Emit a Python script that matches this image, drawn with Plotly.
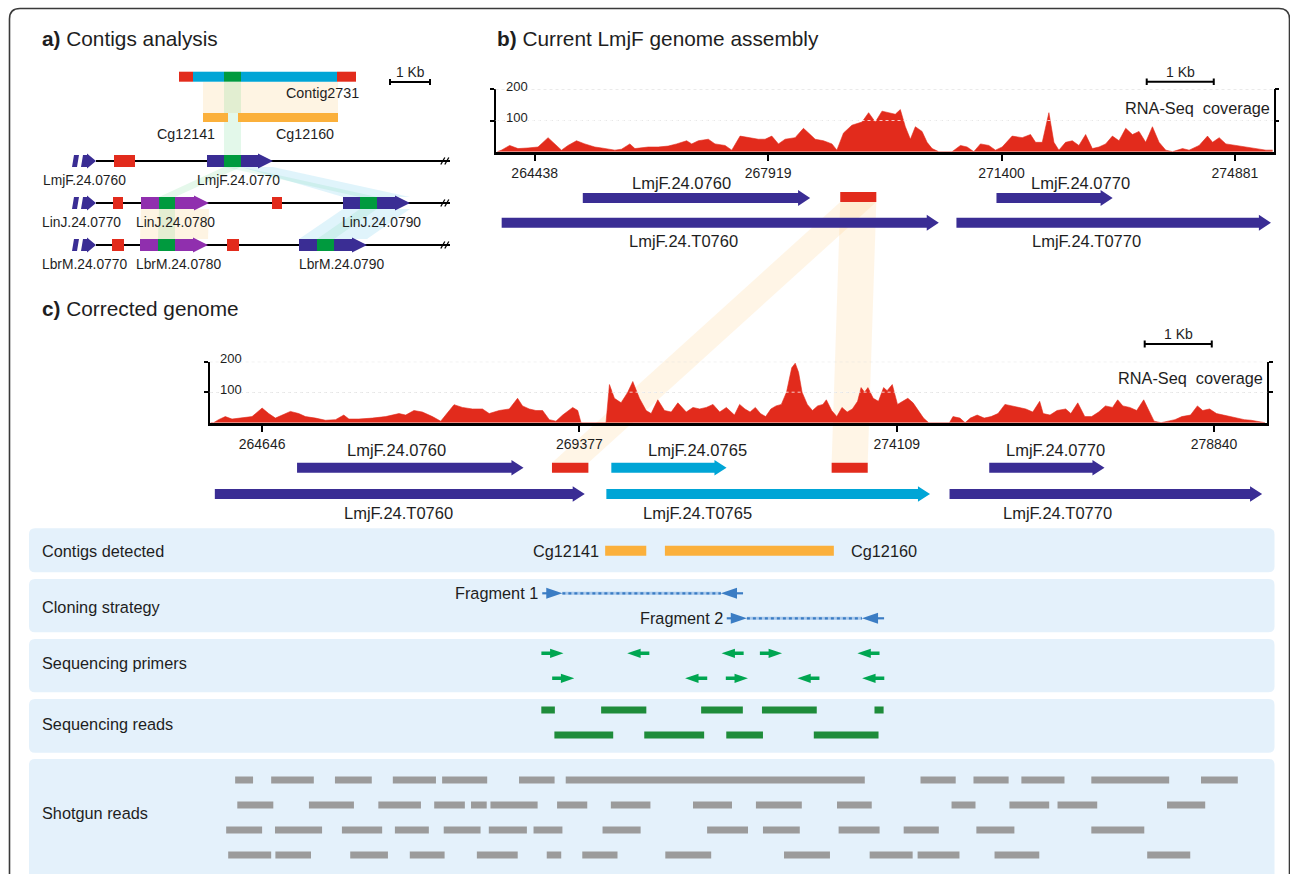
import plotly.graph_objects as go

W, H = 1290, 874
FONT = "Liberation Sans, Arial, Helvetica, sans-serif"
TXT = "#1e1e1e"

# ---------------- colours ----------------
DARK = "#3a2d94"
LIGHT = "#00a5d6"
GREEN = "#009a3e"
RED = "#e22b1c"
ORANGE = "#fbb03b"
PURPLE = "#902fae"
PRIMER = "#00a651"
READ = "#1e8c3a"
GRAY = "#9b9b9b"
CLONE = "#3b7dc4"
BOX = "#e4f1fb"

# ================= DATA =================
# ---- panel a (positions in kb from the left end of each locus) ----
A_CONTIG = [(2.675, 3.025, RED), (3.025, 3.8, LIGHT), (3.8, 4.225, GREEN),
            (4.225, 6.625, LIGHT), (6.625, 7.1, RED)]
A_CG = [("Cg12141", 3.275, 3.9, 2.85), ("Cg12160", 4.15, 6.65, 5.825)]
A_TRUNC = ["LmjF.24.0760", "LinJ.24.0770", "LbrM.24.0770"]
A_TRUNC_LABEL_X = [0.3, 0.225, 0.3]
A_RED = [[(1.05, 1.575)], [(1.025, 1.275), (5.0, 5.25)], [(1.0, 1.3), (3.875, 4.175)]]
# row, name, start, end, colour, conserved start, conserved end, label x
A_GENES = [
    (0, "LmjF.24.0770", 3.375, 5.025, DARK, 3.8, 4.225, 4.15),
    (1, "LinJ.24.0780", 1.725, 3.425, PURPLE, 2.175, 2.575, 2.575),
    (1, "LinJ.24.0790", 6.775, 8.45, DARK, 7.2, 7.625, 7.725),
    (2, "LbrM.24.0780", 1.7, 3.4, PURPLE, 2.15, 2.575, 2.65),
    (2, "LbrM.24.0790", 5.675, 7.375, DARK, 6.125, 6.55, 6.725),
]
A_LINE_END = 9.45
A_SCALE = (7.95, 8.95)

# ---- panel b: current assembly (genomic coordinates) ----
B_TICKS = [264438, 267919, 271400, 274881]
B_COV_POS = [263880, 263941, 264064, 264188, 264338, 264487, 264637, 264737, 264837, 264935,
             265061, 265185, 265334, 265434, 265533, 265633, 265733, 265857, 265932, 266032,
             266131, 266280, 266429, 266555, 266704, 266779, 266878, 267027, 267127, 267277,
             267377, 267501, 267625, 267774, 267874, 267974, 268073, 268173, 268322, 268446,
             268547, 268621, 268745, 268871, 268945, 269044, 269169, 269319, 269418, 269518,
             269618, 269742, 269816, 269891, 269966, 270041, 270115, 270215, 270290, 270365,
             270464, 270663, 270788, 270887, 270987, 271086, 271211, 271310, 271410, 271559,
             271709, 271833, 271908, 272008, 272107, 272182, 272256, 272356, 272456, 272555,
             272655, 272755, 272854, 272954, 273054, 273153, 273253, 273353, 273451, 273551,
             273651, 273750, 273850, 273950, 274100, 274198, 274348, 274473, 274548, 274647,
             274747, 274896, 275045, 275195, 275344, 275444]
B_COV_VAL = [0, 5, 20, 10, 12, 15, 45, 25, 5, 20,
             35, 25, 15, 12, 8, 5, 8, 25, 10, 12,
             15, 15, 18, 25, 35, 25, 35, 40, 25, 20,
             5, 50, 45, 40, 40, 50, 25, 40, 45, 75,
             55, 40, 35, 25, 5, 60, 85, 95, 125, 95,
             130, 125, 120, 135, 80, 40, 80, 65, 30, 10,
             0, 0, 20, 15, 0, 25, 20, 5, 15, 50,
             45, 55, 30, 30, 125, 30, 5, 30, 35, 20,
             55, 10, 15, 25, 50, 35, 75, 55, 65, 30,
             80, 30, 5, 0, 10, 5, 20, 50, 30, 45,
             25, 20, 15, 10, 5, 5]
# name, start, end, lane, label x
B_GENES = [("LmjF.24.0760", 265155, 268546, 0, 266630),
           ("LmjF.24.0770", 271325, 273058, 0, 272582),
           ("LmjF.24.T0760", 263945, 270465, 1, 266660),
           ("LmjF.24.T0770", 270728, 275419, 1, 272671)]
B_RED = [(268995, 269533)]
B_SCALE = (273566, 274566)

# ---- panel c: corrected genome (genomic coordinates) ----
C_TICKS = [264646, 269377, 274109, 278840]
C_COV_POS = [263880, 263923, 263997, 264097, 264197, 264346, 264496, 264646, 264744, 264844,
             264944, 265068, 265192, 265292, 265442, 265591, 265741, 265864, 265940, 266089,
             266288, 266488, 266687, 266787, 266910, 267035, 267186, 267309, 267383, 267508,
             267633, 267782, 267932, 268032, 268181, 268331, 268455, 268529, 268629, 268728,
             268828, 268928, 269027, 269127, 269277, 269352, 269401, 269774, 269825, 269899,
             269999, 270098, 270173, 270272, 270372, 270447, 270546, 270646, 270746, 270845,
             270970, 271070, 271170, 271269, 271369, 271469, 271568, 271689, 271766, 271845,
             271922, 272000, 272077, 272154, 272232, 272309, 272388, 272465, 272543, 272595,
             272645, 272697, 272775, 272852, 272929, 273008, 273059, 273138, 273215, 273292,
             273370, 273447, 273525, 273577, 273629, 273679, 273758, 273836, 273913, 273965,
             274042, 274120, 274197, 274274, 274352, 274429, 274508, 274585, 274895, 274947,
             275051, 275128, 275206, 275308, 275413, 275515, 275619, 275722, 275826, 275929,
             276033, 276137, 276240, 276292, 276394, 276499, 276628, 276705, 276808, 276912,
             277015, 277119, 277221, 277326, 277403, 277480, 277584, 277687, 277791, 277868,
             277946, 278050, 278153, 278257, 278360, 278489, 278592, 278671, 278773, 278877,
             278980, 279084, 279187, 279291, 279392, 279497, 279600]
C_COV_VAL = [0, 0, 10, 20, 12, 15, 20, 48, 30, 15,
             25, 37, 30, 20, 15, 8, 10, 25, 12, 12,
             15, 20, 30, 25, 40, 35, 20, 5, 25, 59,
             50, 45, 45, 30, 40, 45, 80, 55, 45, 40,
             40, 10, 5, 25, 50, 40, 0, 0, 125, 80,
             65, 100, 135, 80, 40, 30, 75, 40, 35, 65,
             35, 50, 45, 50, 60, 35, 50, 25, 60, 45,
             35, 50, 30, 20, 45, 55, 60, 100, 180, 195,
             165, 100, 60, 40, 55, 60, 75, 40, 20, 50,
             35, 45, 70, 115, 100, 115, 80, 70, 115, 105,
             125, 60, 70, 80, 65, 40, 15, 0, 0, 20,
             15, 0, 15, 25, 15, 20, 30, 60, 55, 50,
             45, 35, 70, 30, 25, 40, 45, 30, 65, 20,
             20, 35, 55, 50, 75, 55, 50, 40, 75, 40,
             5, 0, 5, 10, 20, 25, 55, 40, 45, 30,
             25, 20, 15, 10, 8, 5, 0]
# name, start, end, lane, colour, label x
C_GENES = [("LmjF.24.0760", 265167, 268544, 0, DARK, 266644),
           ("LmjF.24.0765", 269853, 271571, 0, LIGHT, 271132),
           ("LmjF.24.0770", 275488, 277207, 0, DARK, 276477),
           ("LmjF.24.T0760", 263941, 269457, 1, DARK, 266674),
           ("LmjF.24.T0765", 269779, 274605, 1, LIGHT, 271132),
           ("LmjF.24.T0770", 274896, 279557, 1, DARK, 276499)]
C_RED = [(268968, 269511), (273138, 273676)]
C_SCALE = (277806, 278806)

CONTIGS = [("Cg12141", 269761, 270374), ("Cg12160", 270652, 273171)]
FRAGMENTS = [("Fragment 1", 268823, 271817), ("Fragment 2", 271574, 273920)]
PRIMERS = [[(268975, 1), (270255, -1), (271661, -1), (272233, 1), (273687, -1)],
           [(269136, 1), (271118, -1), (271725, 1), (272791, -1), (273758, -1)]]
SEQ_READS = [[(268809, 269011), (269701, 270375), (271192, 271814), (272099, 272916), (273777, 273913)],
             [(269004, 269881), (270344, 271237), (271567, 272114), (272872, 273837)]]
SHOTGUN = [
    [(264244, 264511), (264781, 265417), (265732, 266281), (266595, 267238), (267330, 268002),
     (268477, 269007), (269173, 273632), (274463, 274988), (275253, 275777), (275967, 276610),
     (277010, 278171), (278645, 279194)],
    [(264276, 264813), (265344, 266015), (266379, 267014), (267212, 267669), (267761, 267995),
     (268051, 268754), (269044, 269494), (269846, 270436), (271071, 271652), (272009, 272693),
     (273218, 273736), (274926, 275283), (275789, 276382), (276506, 277098), (278139, 278708)],
    [(264110, 264646), (264838, 265540), (265836, 266436), (266626, 267132), (267354, 267903),
     (268026, 268594), (268693, 269124), (269722, 270290), (271281, 271891), (272114, 272663),
     (273242, 273853), (274212, 274736), (275296, 275863), (277010, 277800)],
    [(264140, 264781), (264844, 265375), (265960, 266522), (266848, 267367), (267848, 268457),
     (268890, 269106), (269420, 269945), (270658, 271342), (272428, 273113), (273705, 274346),
     (274420, 275044), (275567, 276234), (277843, 278485)],
]
TRACKS = ["Contigs detected", "Cloning strategy", "Sequencing primers", "Sequencing reads", "Shotgun reads"]

# ================= LAYOUT (pixel geometry) =================
A_Y_CONTIG, A_Y_CG, A_Y_ROWS = 76.7, 117.5, [161, 203, 245]
B_LANES = [198, 222.7]
C_LANES = [467.7, 494]
TRACK_BOXES = [(528.3, 572.3), (579, 632.3), (639, 692.3), (699, 752.7), (759, 884)]
TRACK_LABEL_Y = [550.5, 606.5, 663.3, 724.3, 813]
Y_CONTIG = 550.7
Y_FRAG = [593.3, 618.3]
Y_PRIMER = [653.3, 678.3]
Y_READ = [710, 735]
Y_SHOT = [780, 805, 830, 855]

B_XPIX, B_XRANGE = (495.5, 1273.5), (263853, 275457)
B_YPIX = (89.3, 151.7)
C_XPIX, C_XRANGE = (209.6, 1267.3), (263863, 279634)
C_YPIX = (361.7, 422.7)
A_XPIX, A_XRANGE = (0, 480), (-1.8, 10.2)

F_TITLE, F_GENE, F_TRACK, F_SMALL, F_TICK = 20.8, 16.5, 16.3, 13.8, 14


def dom_x(p):
    return [p[0] / W, p[1] / W]


def dom_y(p):
    return [1 - p[1] / H, 1 - p[0] / H]


def to_px(g, pix, rng):
    return pix[0] + (g - rng[0]) / (rng[1] - rng[0]) * (pix[1] - pix[0])


fig = go.Figure()


def add_polys(polys, color, xa, ya="y"):
    xs, ys = [], []
    for px_, py_ in polys:
        xs += list(px_) + [px_[0], None]
        ys += list(py_) + [py_[0], None]
    fig.add_trace(go.Scatter(x=xs, y=ys, xaxis=xa, yaxis=ya, mode="lines", fill="toself",
                             fillcolor=color, line=dict(width=0, color=color),
                             hoverinfo="skip", showlegend=False))


def add_line(xs, ys, color, width, xa, ya="y", dash=None):
    fig.add_trace(go.Scatter(x=xs, y=ys, xaxis=xa, yaxis=ya, mode="lines",
                             line=dict(color=color, width=width, dash=dash),
                             hoverinfo="skip", showlegend=False))


def arrow(x0, x1, yc, bh, hh, hl, direction=1):
    if direction > 0:
        xh = x1 - hl
        return ([x0, xh, xh, x1, xh, xh, x0], [yc - bh, yc - bh, yc - hh, yc, yc + hh, yc + bh, yc + bh])
    xh = x0 + hl
    return ([x1, xh, xh, x0, xh, xh, x1], [yc - bh, yc - bh, yc - hh, yc, yc + hh, yc + bh, yc + bh])


def rect(x0, x1, yc, h):
    return ([x0, x1, x1, x0], [yc - h, yc - h, yc + h, yc + h])


def quad(xt0, xt1, yt, xb0, xb1, yb):
    return ([xt0, xt1, xb1, xb0], [yt, yt, yb, yb])


def rrect(x0, y0, x1, y1, r):
    return (f"M {x0 + r},{y0} L {x1 - r},{y0} Q {x1},{y0} {x1},{y0 + r} L {x1},{y1 - r} "
            f"Q {x1},{y1} {x1 - r},{y1} L {x0 + r},{y1} Q {x0},{y1} {x0},{y1 - r} "
            f"L {x0},{y0 + r} Q {x0},{y0} {x0 + r},{y0} Z")


annotations = []
shapes = []


def text(x, y, s, size, xref="x", yref="y", xanchor="center", yanchor="middle", color=TXT, **kw):
    annotations.append(dict(x=x, y=y, xref=xref, yref=yref, text=s, showarrow=False,
                            xanchor=xanchor, yanchor=yanchor, borderpad=0,
                            font=dict(family=FONT, size=size, color=color), **kw))


# ---------- frame and track boxes ----------
shapes.append(dict(type="path", xref="x", yref="y", layer="below",
                   path="M 9.5,890 L 9.5,19 Q 9.5,8.5 20,8.5 L 1279,8.5 Q 1289.5,8.5 1289.5,19 L 1289.5,890",
                   line=dict(color="#3a3a3a", width=1.6)))
for (y0, y1) in TRACK_BOXES:
    shapes.append(dict(type="path", xref="x", yref="y", layer="below",
                       path=rrect(29, y0, 1274.5, y1, 6), fillcolor=BOX, line=dict(width=0)))

# ---------- connecting bands between b and c ----------
bx0 = to_px(B_RED[0][0], B_XPIX, B_XRANGE)
bx1 = to_px(B_RED[0][1], B_XPIX, B_XRANGE)
yb_top = B_LANES[0] + 4
yc_bot = C_LANES[0] - 5
for (g0, g1) in C_RED:
    cx0 = to_px(g0, C_XPIX, C_XRANGE)
    cx1 = to_px(g1, C_XPIX, C_XRANGE)
    shapes.append(dict(type="path", xref="x", yref="y", layer="below",
                       path=f"M {bx0},{yb_top} L {bx1},{yb_top} L {cx1},{yc_bot} L {cx0},{yc_bot} Z",
                       fillcolor="rgba(252,190,100,0.16)", line=dict(width=0)))

# ================= PANEL A =================
XA = "x4"
add_polys([rect(A_CG[0][1], A_CG[1][2], (A_Y_CONTIG + 5 + A_Y_CG - 4.5) / 2, (A_Y_CG - 4.5 - A_Y_CONTIG - 5) / 2)],
          "rgba(251,176,59,0.14)", XA)
add_polys([quad(3.8, 4.225, A_Y_CONTIG + 5, 3.8, 4.225, A_Y_ROWS[0] - 6)], "rgba(40,200,90,0.13)", XA)
lm = A_GENES[0]
lj80, lj90, lb80, lb90 = A_GENES[1], A_GENES[2], A_GENES[3], A_GENES[4]
add_polys([quad(lm[5], lm[6], A_Y_ROWS[0] + 6, lj80[5], lj80[6], A_Y_ROWS[1] - 6)], "rgba(40,200,90,0.12)", XA)
add_polys([quad(lj80[2], lj80[3], A_Y_ROWS[1] + 6, lb80[2], lb80[3], A_Y_ROWS[2] - 6)], "rgba(251,176,59,0.14)", XA)
add_polys([quad(lj80[5], lj80[6], A_Y_ROWS[1] + 6, lb80[5], lb80[6], A_Y_ROWS[2] - 6)], "rgba(40,200,90,0.12)", XA)
add_polys([quad(lm[6], lm[3], A_Y_ROWS[0] + 6, lj90[2], lj90[3], A_Y_ROWS[1] - 6),
           quad(lj90[2], lj90[3], A_Y_ROWS[1] + 6, lb90[2], lb90[3], A_Y_ROWS[2] - 6)],
          "rgba(0,165,220,0.12)", XA)
add_polys([quad(lm[5], lm[6], A_Y_ROWS[0] + 6, lj90[5], lj90[6], A_Y_ROWS[1] - 6),
           quad(lj90[5], lj90[6], A_Y_ROWS[1] + 6, lb90[5], lb90[6], A_Y_ROWS[2] - 6)],
          "rgba(40,200,120,0.10)", XA)

for (s, e, col) in A_CONTIG:
    add_polys([rect(s, e, A_Y_CONTIG, 5)], col, XA)
text(7.2, A_Y_CONTIG + 16.5, "Contig2731", 14.3, xref=XA, xanchor="right")
for (name, s, e, lx) in A_CG:
    add_polys([rect(s, e, A_Y_CG, 4.5)], ORANGE, XA)
    text(lx, A_Y_CG + 16, name, 14.3, xref=XA)

for i, yr in enumerate(A_Y_ROWS):
    add_line([0.6, A_LINE_END], [yr, yr], "black", 2, XA)
    for sx in (9.27, 9.37):
        add_line([sx - 0.05, sx + 0.05], [yr + 3.5, yr - 3.5], "black", 1.3, XA)
    add_polys([([0, 0.05, 0.175, 0.125], [yr + 6, yr - 6, yr - 6, yr + 6]),
               ([0.225, 0.275, 0.375, 0.375, 0.6, 0.375, 0.375], [yr + 6, yr - 6, yr - 6, yr - 7.5, yr, yr + 7.5, yr + 6])],
              DARK, XA)
    text(A_TRUNC_LABEL_X[i], yr + 19, A_TRUNC[i], F_SMALL, xref=XA)
    add_polys([rect(s, e, yr, 6) for (s, e) in A_RED[i]], RED, XA)
for (row, name, s, e, col, cs, ce, lx) in A_GENES:
    yr = A_Y_ROWS[row]
    add_polys([arrow(s, e, yr, 6, 7.5, 0.375)], col, XA)
    add_polys([rect(cs, ce, yr, 6)], GREEN, XA)
    text(lx, yr + 19, name, F_SMALL, xref=XA)

add_line([A_SCALE[0], A_SCALE[1]], [82, 82], "black", 2, XA)
for sx in A_SCALE:
    add_line([sx, sx], [79, 85], "black", 2, XA)
text((A_SCALE[0] + A_SCALE[1]) / 2, 72, "1 Kb", 13.8, xref=XA)

# ================= PANEL B =================
fig.add_trace(go.Scatter(x=B_COV_POS, y=B_COV_VAL, xaxis="x2", yaxis="y2", mode="lines", fill="tozeroy",
                         fillcolor=RED, line=dict(color=RED, width=0.6), hoverinfo="skip", showlegend=False))
for (name, s, e, lane, lx) in B_GENES:
    add_polys([arrow(s, e, B_LANES[lane], 5, 8, 180)], DARK, "x2")
    if lane == 0:
        text(lx, B_LANES[lane] - 15, name, F_GENE, xref="x2")
    else:
        text(lx, B_LANES[lane] + 18, name, F_GENE, xref="x2")
add_polys([rect(s, e, B_LANES[0] - 1, 5) for (s, e) in B_RED], RED, "x2")
add_line(list(B_SCALE), [81.7, 81.7], "black", 2, "x2")
for sx in B_SCALE:
    add_line([sx, sx], [78.5, 85], "black", 2, "x2")
text(sum(B_SCALE) / 2, 72, "1 Kb", 14, xref="x2")

# ================= PANEL C =================
fig.add_trace(go.Scatter(x=C_COV_POS, y=C_COV_VAL, xaxis="x3", yaxis="y3", mode="lines", fill="tozeroy",
                         fillcolor=RED, line=dict(color=RED, width=0.6), hoverinfo="skip", showlegend=False))
for (name, s, e, lane, col, lx) in C_GENES:
    add_polys([arrow(s, e, C_LANES[lane], 5, 7.7, 180)], col, "x3")
    if lane == 0:
        text(lx, C_LANES[lane] - 18, name, F_GENE, xref="x3")
    else:
        text(lx, C_LANES[lane] + 19, name, F_GENE, xref="x3")
add_polys([rect(s, e, C_LANES[0], 5) for (s, e) in C_RED], RED, "x3")
add_line(list(C_SCALE), [344, 344], "black", 2, "x3")
for sx in C_SCALE:
    add_line([sx, sx], [340.5, 347.5], "black", 2, "x3")
text(sum(C_SCALE) / 2, 334, "1 Kb", 14, xref="x3")

# ---------- tracks ----------
for lab, ly in zip(TRACKS, TRACK_LABEL_Y):
    text(41, ly, lab, F_TRACK, xanchor="left")

for i, (name, s, e) in enumerate(CONTIGS):
    add_polys([rect(s, e, Y_CONTIG, 5)], ORANGE, "x3")
text(CONTIGS[0][1], Y_CONTIG, CONTIGS[0][0], F_TRACK, xref="x3", xanchor="right", xshift=-5)
text(CONTIGS[1][2], Y_CONTIG, CONTIGS[1][0], F_TRACK, xref="x3", xanchor="left", xshift=16)

for (name, s, e), yf in zip(FRAGMENTS, Y_FRAG):
    add_line([s + 300, e - 330], [yf, yf], "#a9c9ec", 3, "x3")
    add_line([s + 300, e - 330], [yf, yf], CLONE, 2.2, "x3", dash="3px,3px")
    add_line([s, s + 150], [yf, yf], CLONE, 2.2, "x3")
    add_line([e - 150, e], [yf, yf], CLONE, 2.2, "x3")
    add_polys([([s + 60, s + 300, s + 60], [yf - 5.5, yf, yf + 5.5]),
               ([e - 90, e - 330, e - 90], [yf - 5.5, yf, yf + 5.5])], CLONE, "x3")
    text(s, yf, name, F_TRACK, xref="x3", xanchor="right", xshift=-3)

prim = []
for row, yp in zip(PRIMERS, Y_PRIMER):
    for (c, d) in row:
        prim.append(arrow(c - 165, c + 165, yp, 1.8, 4.6, 200, d))
add_polys(prim, PRIMER, "x3")

add_polys([rect(s, e, yr, 3.6) for row, yr in zip(SEQ_READS, Y_READ) for (s, e) in row], READ, "x3")
add_polys([rect(s, e, yr, 3.4) for row, yr in zip(SHOTGUN, Y_SHOT) for (s, e) in row], GRAY, "x3")

# ---------- coverage axis decorations ----------
for ya, xd in (("y2", "x2 domain"), ("y3", "x3 domain")):
    for v in (100, 200):
        text(0, v, str(v), 13, xref=xd, yref=ya, xanchor="left", xshift=9, yshift=3)
    shapes.append(dict(type="line", xref=xd, yref=ya, x0=0, x1=1, y0=100, y1=100, layer="above",
                       line=dict(color="rgba(255,255,255,0.75)", width=1, dash="dot")))
    shapes.append(dict(type="line", xref=xd, yref=ya, x0=0, x1=1, y0=200, y1=200, layer="above",
                       line=dict(color="#dcdcdc", width=1, dash="dot")))
text(1, 140, "RNA-Seq\u00a0 coverage", 16.3, xref="x2 domain", yref="y2", xanchor="right", xshift=-3)
text(1, 147, "RNA-Seq\u00a0 coverage", 16.3, xref="x3 domain", yref="y3", xanchor="right", xshift=-3)

# ---------- titles ----------
text(41, 38, "<b>a)</b> Contigs analysis", F_TITLE, xanchor="left")
text(496, 38, "<b>b)</b> Current LmjF genome assembly", F_TITLE, xanchor="left")
text(41, 308, "<b>c)</b> Corrected genome", F_TITLE, xanchor="left")

# ================= AXES =================
hidden = dict(visible=False, showgrid=False, zeroline=False, fixedrange=True)
cov_x = dict(showline=True, linecolor="black", linewidth=2.5, ticks="outside", ticklen=7, tickwidth=2,
             tickcolor="black", showgrid=False, zeroline=False,
             tickfont=dict(family=FONT, size=F_TICK, color=TXT), fixedrange=True)
cov_y = dict(range=[0, 200], showline=True, linecolor="black", linewidth=1.5, mirror="ticks",
             ticks="outside", ticklen=4, tickwidth=1.5, tickcolor="black", tickvals=[100, 200],
             showticklabels=False, showgrid=True, gridcolor="#d9d9d9", griddash="dot", gridwidth=1,
             zeroline=False, fixedrange=True)

fig.update_layout(
    width=W, height=H, margin=dict(l=0, r=0, t=0, b=0),
    paper_bgcolor="white", plot_bgcolor="rgba(0,0,0,0)", showlegend=False, hovermode=False,
    xaxis=dict(range=[0, W], domain=[0, 1], anchor="y", **hidden),
    yaxis=dict(range=[H, 0], domain=[0, 1], anchor="x", **hidden),
    xaxis2=dict(range=list(B_XRANGE), domain=dom_x(B_XPIX), anchor="y2",
                tickvals=B_TICKS, ticktext=[str(t) for t in B_TICKS], **cov_x),
    yaxis2=dict(domain=dom_y(B_YPIX), anchor="x2", **cov_y),
    xaxis3=dict(range=list(C_XRANGE), domain=dom_x(C_XPIX), anchor="y3",
                tickvals=C_TICKS, ticktext=[str(t) for t in C_TICKS], **cov_x),
    yaxis3=dict(domain=dom_y(C_YPIX), anchor="x3", **cov_y),
    xaxis4=dict(range=list(A_XRANGE), domain=dom_x(A_XPIX), anchor="y", **hidden),
    annotations=annotations, shapes=shapes,
)

fig.write_html("out.html", include_plotlyjs=True, full_html=True, config={"displayModeBar": False})
with open("out.html", encoding="utf-8") as f:
    html = f.read()
html = html.replace("<body>", '<body style="margin:0;padding:0;overflow:hidden">', 1)
with open("out.html", "w", encoding="utf-8") as f:
    f.write(html)
